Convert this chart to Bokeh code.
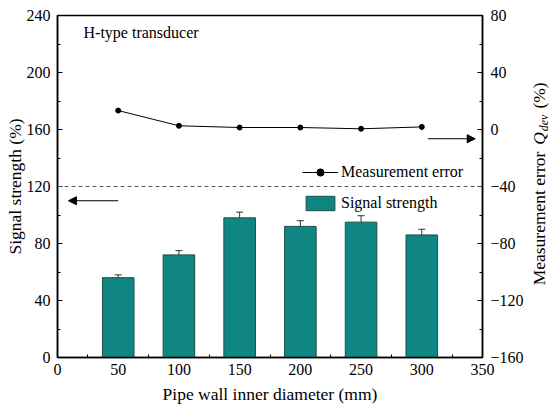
import math
from bokeh.plotting import figure
from bokeh.layouts import row
from bokeh.models import (ColumnDataSource, Range1d, LinearAxis, Whisker, TeeHead,
                          Legend, LegendItem, Label, Span, Arrow, NormalHead,
                          FixedTicker)
from bokeh.embed import file_html
from bokeh.resources import INLINE

# ---- data ----
diameters = [50, 100, 150, 200, 250, 300]
signal_strength = [56, 72, 98, 92, 95, 86]
signal_err = [2, 3, 4, 4, 4.5, 4]
measurement_error = [13.3, 2.6, 1.4, 1.4, 0.5, 1.8]

x_ticks = [0, 50, 100, 150, 200, 250, 300, 350]
left_ticks = [0, 40, 80, 120, 160, 200, 240]
right_ticks = [-160, -120, -80, -40, 0, 40, 80]
dash_level = 120          # left-axis value of the dashed separator
left_arrow = dict(x0=50, x1=9, y=110)
right_arrow = dict(x0=305, x1=344, y=-6.5)

FONT = "Liberation Serif"
BAR_COLOR = "#0f8682"
BAR_LINE = "#1d4d4b"

TOTAL_H = 414
FRAME_TOP = 15
FRAME_H = 342
FRAME_BOTTOM = FRAME_TOP + FRAME_H
RIGHT_BORDER = 38
MAIN_W = 57 + 425 + RIGHT_BORDER

src = ColumnDataSource(dict(
    x=diameters,
    s=signal_strength,
    up=[v + e for v, e in zip(signal_strength, signal_err)],
    lo=[v - e for v, e in zip(signal_strength, signal_err)],
    m=measurement_error,
))

p = figure(frame_width=425, frame_height=FRAME_H,
           x_range=Range1d(0, 350), y_range=Range1d(0, 240),
           output_backend="svg", toolbar_location=None,
           min_border_left=57, min_border_right=RIGHT_BORDER,
           min_border_top=FRAME_TOP, min_border_bottom=TOTAL_H - FRAME_BOTTOM,
           background_fill_color="white", border_fill_color="white")
p.extra_y_ranges = {"right": Range1d(-160, 80)}
p.xgrid.visible = False
p.ygrid.visible = False
p.outline_line_color = "black"
p.outline_line_width = 1.5
p.outline_line_alpha = 1

bars = p.vbar(x="x", top="s", width=26, bottom=0, source=src,
              fill_color=BAR_COLOR, line_color=BAR_LINE, line_width=1)

wh = Whisker(base="x", upper="up", lower="lo", source=src,
             line_color="#333333", line_width=1,
             upper_head=TeeHead(size=7, line_color="#333333", line_width=1),
             lower_head=TeeHead(size=7, line_color="#333333", line_width=1))
p.add_layout(wh)

ln = p.line(x="x", y="m", source=src, y_range_name="right",
            line_color="black", line_width=1)
pts = p.scatter(x="x", y="m", source=src, y_range_name="right",
                size=5, fill_color="black", line_color="black")

p.add_layout(Span(location=dash_level, dimension="width",
                  line_color="#555555", line_dash="4 3", line_width=1))

head_l = NormalHead(size=8, fill_color="black", line_color="black", line_width=1)
p.add_layout(Arrow(end=head_l, x_start=left_arrow["x0"], x_end=left_arrow["x1"],
                   y_start=left_arrow["y"], y_end=left_arrow["y"],
                   line_color="black", line_width=1))
head_r = NormalHead(size=8, fill_color="black", line_color="black", line_width=1)
p.add_layout(Arrow(end=head_r, x_start=right_arrow["x0"], x_end=right_arrow["x1"],
                   y_start=right_arrow["y"], y_end=right_arrow["y"],
                   y_range_name="right",
                   line_color="black", line_width=1))

# axes
raxis = LinearAxis(y_range_name="right")
p.add_layout(raxis, "right")

for ax in [p.xaxis[0], p.yaxis[0], raxis]:
    ax.axis_line_width = 1.5
    ax.axis_line_color = "black"
    ax.major_tick_in = 5
    ax.major_tick_out = 0
    ax.minor_tick_in = 3
    ax.minor_tick_out = 0
    ax.major_tick_line_color = "black"
    ax.minor_tick_line_color = "black"
    ax.major_label_text_font = FONT
    ax.major_label_text_font_size = "16px"
    ax.major_label_text_color = "black"
    ax.axis_label_text_font = FONT
    ax.axis_label_text_font_size = "17.5px"
    ax.axis_label_text_font_style = "normal"
    ax.axis_label_text_color = "black"

p.xaxis.ticker = FixedTicker(ticks=x_ticks, minor_ticks=[v + 25 for v in x_ticks[:-1]])
p.yaxis[0].ticker = FixedTicker(ticks=left_ticks, minor_ticks=[v + 20 for v in left_ticks[:-1]])
raxis.ticker = FixedTicker(ticks=right_ticks, minor_ticks=[v + 20 for v in right_ticks[:-1]])

p.xaxis.axis_label = "Pipe wall inner diameter (mm)"
p.xaxis.major_tick_in = 0
p.xaxis.major_label_standoff = 6
p.xaxis.axis_label_standoff = 6
p.yaxis[0].axis_label = "Signal strength (%)"
p.yaxis[0].major_label_standoff = 7
p.yaxis[0].axis_label_standoff = -1
raxis.major_label_standoff = 8

# legend
legend = Legend(items=[LegendItem(label="Measurement error", renderers=[ln, pts]),
                       LegendItem(label="Signal strength", renderers=[bars])],
                location=(245, 145), orientation="vertical",
                glyph_width=36, glyph_height=18, label_height=18,
                label_standoff=3, spacing=13, padding=0, margin=0,
                border_line_alpha=0, background_fill_alpha=0,
                label_text_font=FONT, label_text_font_size="16px",
                label_text_color="black")
p.add_layout(legend)

# inner title (anchored by its middle)
p.add_layout(Label(x=26, y=325, x_units="screen", y_units="screen",
                   text="H-type transducer", text_font=FONT,
                   text_font_size="16px", text_color="black",
                   text_baseline="middle", text_align="left"))

# right axis title "Measurement error Q_dev (%)" drawn in a thin strip figure
strip_w = 546 - MAIN_W
p2 = figure(frame_width=strip_w, frame_height=FRAME_H,
            x_range=Range1d(MAIN_W, MAIN_W + strip_w),
            y_range=Range1d(TOTAL_H - FRAME_BOTTOM, TOTAL_H - FRAME_TOP),
            x_axis_type=None, y_axis_type=None,
            min_border_left=0, min_border_right=0,
            min_border_top=FRAME_TOP, min_border_bottom=TOTAL_H - FRAME_BOTTOM,
            outline_line_color=None, toolbar_location=None,
            output_backend="svg", background_fill_color="white",
            border_fill_color="white")
p2.title.visible = False

fs = 17.5
sub_fs = 12
base_page_x = 538.5        # baseline position of the rotated title (page px)
mid = 0.3375               # em-middle above baseline


def cx(base_x, size):
    return base_x - mid * size


def cy(page_center_y):
    return TOTAL_H - page_center_y


rot = math.pi / 2
common = dict(angle=rot, text_font=FONT, text_color="black",
              text_baseline="middle", text_align="center")
p2.add_layout(Label(x=cx(base_page_x, fs), y=cy(218),
                    text="Measurement error", text_font_size=f"{fs}px", **common))
p2.add_layout(Label(x=cx(base_page_x, fs), y=cy(138),
                    text="Q", text_font_size=f"{fs}px", text_font_style="italic", **common))
p2.add_layout(Label(x=cx(base_page_x + 3.5, sub_fs), y=cy(122.5),
                    text="dev", text_font_size=f"{sub_fs}px", text_font_style="italic", **common))
p2.add_layout(Label(x=cx(base_page_x, fs), y=cy(95),
                    text="(%)", text_font_size=f"{fs}px", **common))

layout = row(p, p2, spacing=0)
open("out.html", "w").write(file_html(layout, INLINE))
